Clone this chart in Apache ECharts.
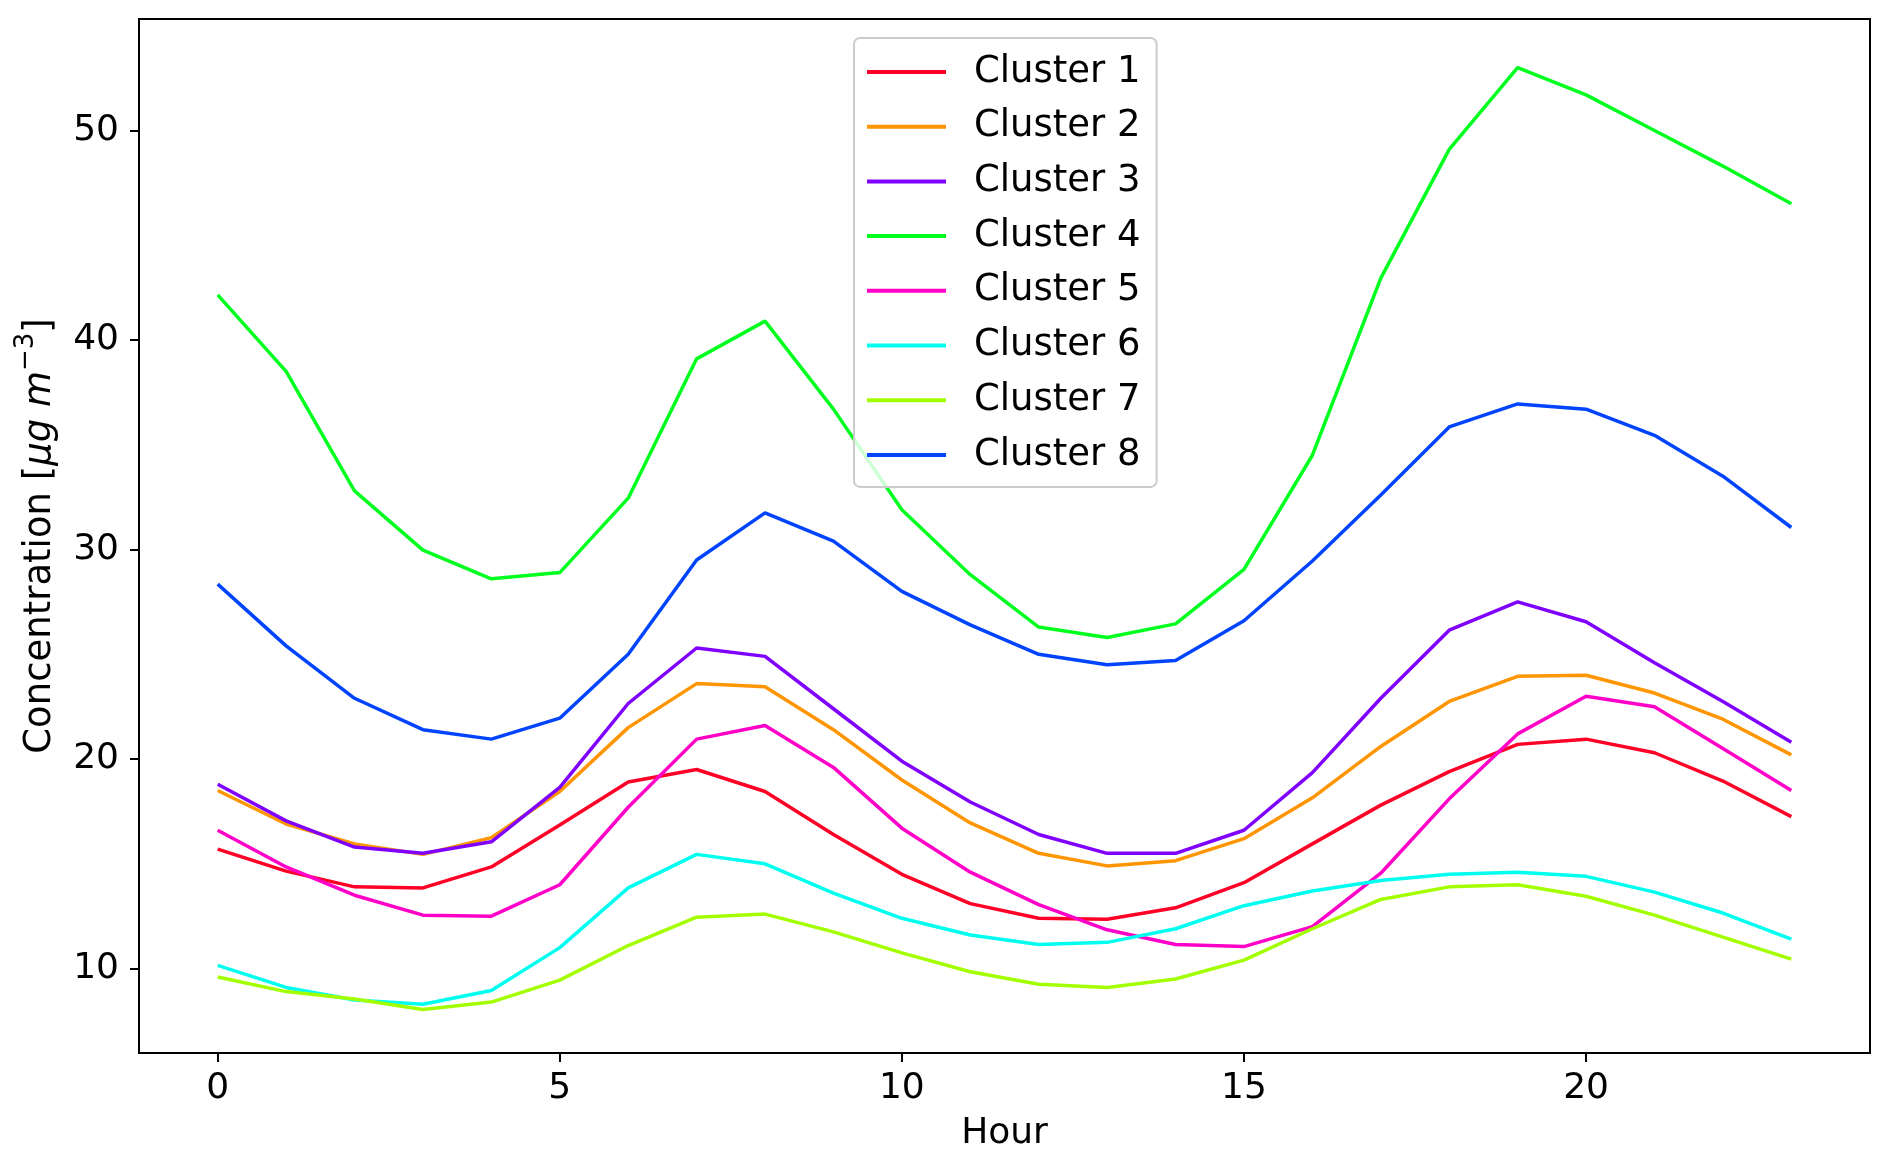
<!DOCTYPE html>
<html>
<head>
<meta charset="utf-8">
<script src="https://cdn.jsdelivr.net/npm/echarts@6/dist/echarts.min.js"></script>
<style>html,body{margin:0;padding:0;background:#fff}#c{width:1892px;height:1164px}</style>
</head>
<body>
<div id="c"></div>
<script>
const hours = [0,1,2,3,4,5,6,7,8,9,10,11,12,13,14,15,16,17,18,19,20,21,22,23];
const seriesNames = ['Cluster 1','Cluster 2','Cluster 3','Cluster 4','Cluster 5','Cluster 6','Cluster 7','Cluster 8'];
const cluster1 = [15.7,14.65,13.9,13.85,14.85,16.85,18.9,19.5,18.45,16.4,14.5,13.1,12.4,12.35,12.9,14.1,15.95,17.8,19.4,20.7,20.95,20.3,18.95,17.25];
const cluster2 = [18.5,16.9,15.95,15.45,16.25,18.45,21.5,23.6,23.45,21.4,19.0,16.95,15.5,14.9,15.15,16.2,18.15,20.6,22.75,23.95,24.0,23.15,21.9,20.2];
const cluster3 = [18.8,17.05,15.8,15.5,16.05,18.65,22.65,25.3,24.9,22.4,19.9,17.95,16.4,15.5,15.5,16.6,19.35,22.9,26.15,27.5,26.55,24.6,22.75,20.8];
const cluster4 = [42.15,38.5,32.8,29.97,28.6,28.9,32.45,39.1,40.9,36.7,31.9,28.8,26.3,25.8,26.45,29.05,34.5,42.95,49.1,53.0,51.7,50.0,48.3,46.5];
const cluster5 = [16.6,14.85,13.5,12.55,12.5,14.0,17.7,20.95,21.6,19.6,16.7,14.6,13.05,11.85,11.15,11.05,12.0,14.55,18.1,21.2,23.0,22.5,20.5,18.5];
const cluster6 = [10.15,9.1,8.5,8.3,8.95,11.0,13.85,15.45,15.0,13.6,12.4,11.6,11.15,11.25,11.9,13.0,13.7,14.2,14.5,14.6,14.4,13.65,12.65,11.4];
const cluster7 = [9.6,8.9,8.55,8.05,8.4,9.45,11.1,12.45,12.6,11.75,10.75,9.85,9.25,9.1,9.5,10.4,11.9,13.3,13.9,14.0,13.45,12.55,11.5,10.45];
const cluster8 = [28.35,25.4,22.9,21.4,20.95,21.95,25.0,29.5,31.75,30.4,28.0,26.4,25.0,24.5,24.7,26.6,29.45,32.6,35.85,36.95,36.7,35.45,33.5,31.05];
const xTicks = [0,5,10,15,20];
const yTicks = [10,20,30,40,50];

const allData = [cluster1,cluster2,cluster3,cluster4,cluster5,cluster6,cluster7,cluster8];
const colors = ['#ff0026','#ff9500','#8000ff','#00ff1f','#ff00c8','#00ffef','#a3ff00','#0044ff'];

const chart = echarts.init(document.getElementById('c'), null, {renderer:'canvas'});
const font = 'DejaVu Sans';
chart.setOption({
  animation: false,
  backgroundColor: '#fff',
  color: colors,
  grid: {left:139, right:22, top:19, bottom:111, show:true, borderColor:'#000', borderWidth:2, backgroundColor:'transparent'},
  legend: {
    orient:'vertical', left:854, top:38,
    data: seriesNames,
    icon:'rect', itemWidth:79, itemHeight:4, itemGap:14.7,
    padding:[14,16,12,13],
    borderColor:'#cccccc', borderWidth:2, borderRadius:6,
    backgroundColor:'rgba(255,255,255,0.8)',
    textStyle:{fontFamily:font, fontSize:37, color:'#000', lineHeight:40, padding:[0,0,0,23]}
  },
  xAxis: {
    type:'value', min:-1.15, max:24.15,
    name:'Hour', nameLocation:'middle', nameGap:63,
    nameTextStyle:{fontFamily:font, fontSize:36, color:'#000'},
    axisLine:{show:true, onZero:false, lineStyle:{color:'#000', width:2}},
    axisTick:{show:true, length:9, lineStyle:{color:'#000', width:2}, customValues:xTicks},
    axisLabel:{fontFamily:font, fontSize:36, color:'#000', margin:18, customValues:xTicks},
    splitLine:{show:false}
  },
  yAxis: {
    type:'value', min:5.97, max:55.32,
    name:'{n|Concentration [}{i|μg m}{s|−3}{n|]}', nameLocation:'middle', nameGap:80,
    nameTextStyle:{fontFamily:font, fontSize:37, color:'#000',
      rich:{
        n:{fontFamily:font, fontSize:37, color:'#000', lineHeight:46, verticalAlign:'bottom'},
        i:{fontFamily:font, fontSize:37, color:'#000', fontStyle:'italic', lineHeight:46, verticalAlign:'bottom'},
        s:{fontFamily:font, fontSize:26, color:'#000', lineHeight:46, verticalAlign:'top'}
      }},
    axisLine:{show:true, onZero:false, lineStyle:{color:'#000', width:2}},
    axisTick:{show:true, length:9, lineStyle:{color:'#000', width:2}, customValues:yTicks},
    axisLabel:{fontFamily:font, fontSize:36, color:'#000', margin:20, customValues:yTicks},
    splitLine:{show:false}
  },
  series: seriesNames.map((n,k)=>({
    name:n, type:'line', symbol:'none', showSymbol:false,
    data: hours.map((h,j)=>[h, allData[k][j]]),
    lineStyle:{width:3.5, color:colors[k]},
    itemStyle:{color:colors[k]},
    z: 2
  }))
});
</script>
</body>
</html>
